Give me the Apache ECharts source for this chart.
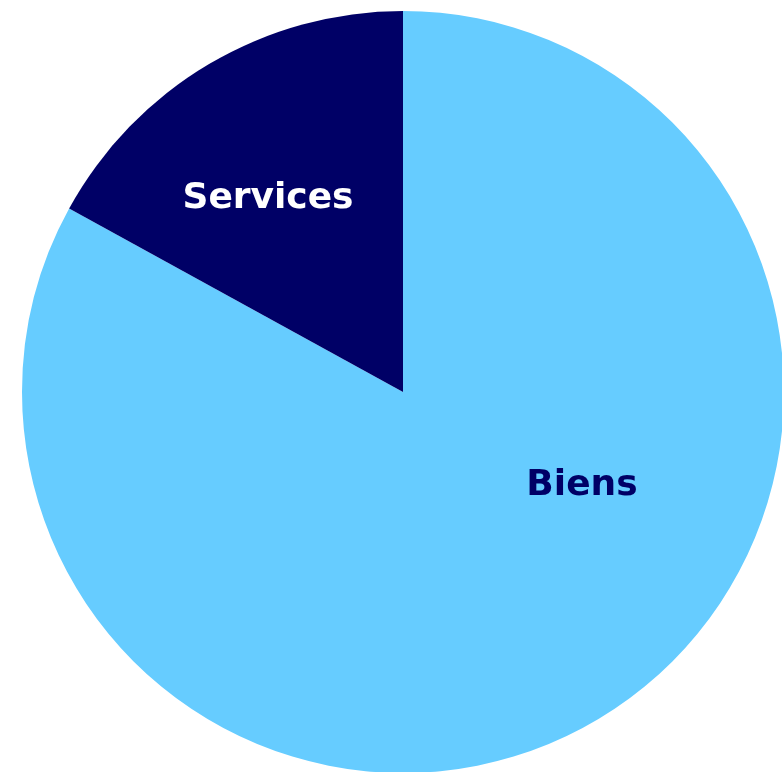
<!DOCTYPE html>
<html><head><meta charset="utf-8">
<script src="https://cdn.jsdelivr.net/npm/echarts@6/dist/echarts.min.js"></script>
<style>html,body{margin:0;padding:0;background:#fff}#c{width:782px;height:772px}</style>
</head><body><div id="c"></div>
<script>
const categories = ['Biens', 'Services'];
const values = [83, 17];
const colors = ['#66CCFF', '#000066'];
const labelColors = ['#000066', '#FFFFFF'];
const labelPos = [[582, 486], [268, 199]];

const chart = echarts.init(document.getElementById('c'), null, {renderer: 'canvas'});
chart.setOption({
  animation: false,
  series: [{
    type: 'pie',
    center: [403, 392],
    radius: [0, 381],
    startAngle: 90,
    clockwise: true,
    silent: true,
    label: {
      show: true,
      position: 'inside',
      fontFamily: 'DejaVu Sans, sans-serif',
      fontWeight: 'bold',
      fontSize: 36
    },
    labelLine: {show: false},
    labelLayout: function (p) {
      return {x: labelPos[p.dataIndex][0], y: labelPos[p.dataIndex][1], align: 'center', verticalAlign: 'middle'};
    },
    data: categories.map((n, i) => ({
      name: n, value: values[i],
      itemStyle: {color: colors[i], borderWidth: 0},
      label: {color: labelColors[i], formatter: '{b}'}
    }))
  }]
});
</script></body></html>
